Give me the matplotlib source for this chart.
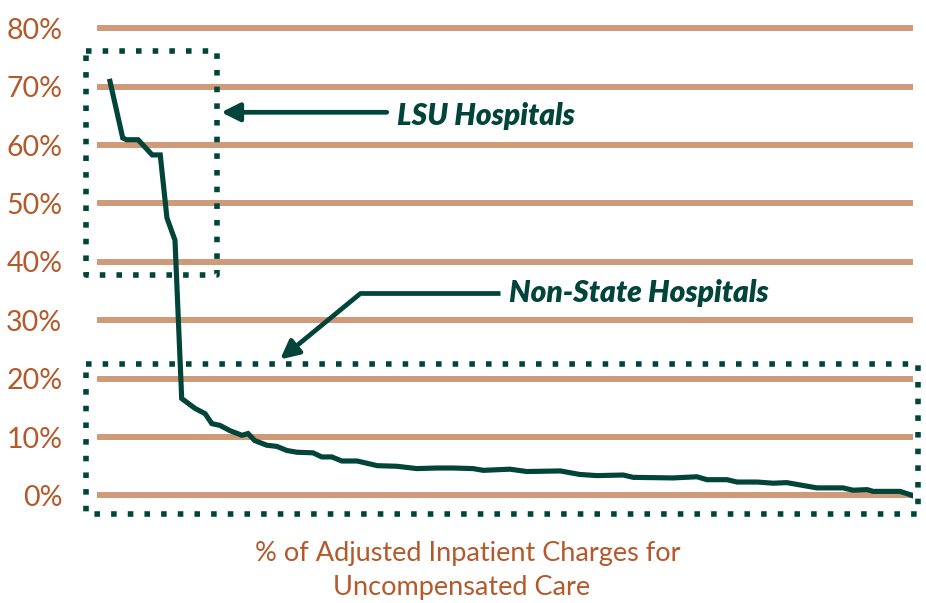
import matplotlib.pyplot as plt

# hospitals ranked by share of uncompensated care
rank = [1, 2.9, 3.5, 5.2, 7.3, 8.5, 9.5, 10.7, 11.7, 13.7, 15.2, 16.2, 17.4, 18.9,
        20.7, 21.6, 22.6, 24.4, 25.9, 27.4, 28.9, 31.3, 32.6, 34.1, 35.6, 37.9,
        40.9, 43.8, 46.8, 49.8, 52.2, 55.2, 56.7, 60.7, 63.2, 68.2, 71.1, 73.7,
        77.6, 79.1, 85, 88.6, 90.1, 93.1, 94.6, 97.6, 100, 102, 104, 106.5,
        110.4, 111.9, 114, 114.9, 118.9, 120, 120.7]
pct = [70.9, 61.2, 60.9, 60.9, 58.3, 58.3, 47.5, 43.7, 16.6, 14.9, 14.0, 12.3, 12.0, 11.1,
       10.3, 10.6, 9.4, 8.6, 8.4, 7.7, 7.4, 7.3, 6.6, 6.6, 5.9, 5.9,
       5.1, 5.0, 4.6, 4.7, 4.7, 4.6, 4.3, 4.5, 4.1, 4.2, 3.6, 3.4,
       3.5, 3.1, 3.0, 3.2, 2.7, 2.7, 2.3, 2.3, 2.1, 2.2, 1.8, 1.3,
       1.3, 0.9, 1.0, 0.7, 0.7, 0.3, 0.0]

yticks = [0, 10, 20, 30, 40, 50, 60, 70, 80]
ylabels = ["0%", "10%", "20%", "30%", "40%", "50%", "60%", "70%", "80%"]

green = "#00443A"
tan = "#CF9A78"
rust = "#B5592B"

fig = plt.figure(figsize=(9.26, 6.03), dpi=100)
ax = fig.add_axes([97 / 926, 83 / 603, 816 / 926, 500 / 603])
ax.set_xlim(-0.94, 120.85)
ax.set_ylim(-4.2, 81.4)

for y in yticks:
    ax.axhline(y, color=tan, lw=4.3, zorder=1)

ax.plot(rank, pct, color=green, lw=3.7, zorder=3, solid_joinstyle="miter")

ax.set_yticks(yticks)
ax.set_yticklabels(ylabels, family="Lato", fontsize=20.5, color=rust)
ax.tick_params(axis="y", length=0, pad=25)
ax.set_xticks([])
for s in ax.spines.values():
    s.set_visible(False)

# dotted boxes
dot = dict(color=green, lw=4.0, ls=(0, (1, 2.0)), dash_capstyle="butt",
           clip_on=False, zorder=4)
ax.plot([-2.58, 17.0, 17.0, -2.58, -2.58], [76.1, 76.1, 37.8, 37.8, 76.1], **dot)
ax.plot([-2.58, 121.6, 121.6, -2.58, -2.58], [22.5, 22.5, -3.2, -3.2, 22.5], **dot)

# callouts
txt = dict(family="Lato", fontsize=21.5, weight="heavy", style="italic", color=green,
           va="center", ha="left")
ax.text(43.8, 65.0, "LSU Hospitals", **txt)
ax.text(60.6, 34.6, "Non-State Hospitals", **txt)

arrow = dict(arrowstyle="-|>,head_length=1.1,head_width=0.55", color=green, lw=3.4,
             shrinkA=0, shrinkB=0)
ax.annotate("", xy=(17.6, 65.6), xytext=(42.3, 65.6), arrowprops=arrow, zorder=5)
ax.plot([59.2, 38.4], [34.6, 34.6], color=green, lw=3.4, solid_capstyle="butt", zorder=5)
ax.annotate("", xy=(26.4, 23.3), xytext=(38.4, 34.6), arrowprops=arrow, zorder=5)

fig.text(468 / 926, 1 - 553 / 603, "% of Adjusted Inpatient Charges for",
         family="Lato", fontsize=19.5, color=rust, ha="center", va="center")
fig.text(462 / 926, 1 - 588 / 603, "Uncompensated Care",
         family="Lato", fontsize=19.5, color=rust, ha="center", va="center")

fig.savefig("out.png", dpi=100)
